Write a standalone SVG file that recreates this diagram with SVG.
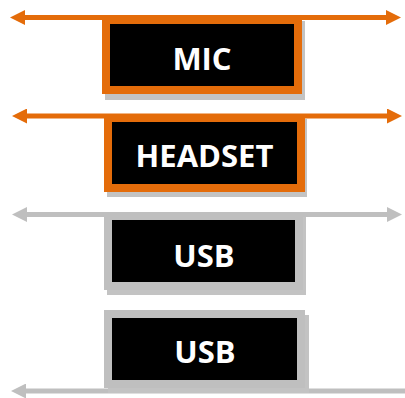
<svg xmlns="http://www.w3.org/2000/svg" width="405" height="398" viewBox="0 0 405 398">
  <style>
    .box { fill: #000000; stroke-width: 8; }
    .orange { stroke: #E46C0A; }
    .gray { stroke: #BFBFBF; }
    .shadow { fill: #C3C3C3; }
    .conn { fill: none; stroke-width: 5; }
    .label { font-family: "Open Sans", "Liberation Sans", sans-serif; font-weight: bold; font-size: 31px; fill: #FFFFFF; text-anchor: middle; }
  </style>
  <defs>
    <marker id="arrowO" viewBox="0 -7.5 15 15" refX="1" refY="0" markerWidth="15" markerHeight="15" markerUnits="userSpaceOnUse" orient="auto-start-reverse">
      <path d="M0,-7.5 L15,0 L0,7.5 z" fill="#E46C0A"/>
    </marker>
    <marker id="arrowG" viewBox="0 -7.5 15 15" refX="1" refY="0" markerWidth="15" markerHeight="15" markerUnits="userSpaceOnUse" orient="auto-start-reverse">
      <path d="M0,-7.5 L15,0 L0,7.5 z" fill="#BFBFBF"/>
    </marker>
  </defs>
  <rect width="405" height="398" fill="#FFFFFF"/>
  <g id="connectors">
    <line class="conn orange" x1="24" y1="17.5" x2="387" y2="17.5" marker-start="url(#arrowO)" marker-end="url(#arrowO)"/>
    <line class="conn orange" x1="26" y1="116" x2="388" y2="116" marker-start="url(#arrowO)" marker-end="url(#arrowO)"/>
    <line class="conn gray" x1="26" y1="214.5" x2="388" y2="214.5" marker-start="url(#arrowG)" marker-end="url(#arrowG)"/>
    <line class="conn gray" x1="405" y1="391" x2="25" y2="391" marker-end="url(#arrowG)"/>
  </g>
  <g id="node-mic">
    <rect class="shadow" x="105" y="21" width="200" height="79"/>
    <rect class="box orange" x="106" y="20" width="192" height="70"/>
    <text class="label" x="202" y="70">MIC</text>
  </g>
  <g id="node-headset">
    <rect class="shadow" x="107" y="119" width="200" height="78"/>
    <rect class="box orange" x="108" y="118" width="193" height="70"/>
    <text class="label" x="204.5" y="166.5">HEADSET</text>
  </g>
  <g id="node-usb1">
    <rect class="shadow" x="107" y="217" width="199" height="78"/>
    <rect class="box gray" x="108" y="216" width="191" height="70"/>
    <text class="label" x="204" y="266.5">USB</text>
  </g>
  <g id="node-usb2">
    <rect class="shadow" x="108" y="315" width="201" height="78"/>
    <rect class="box gray" x="108" y="314" width="193" height="70"/>
    <text class="label" x="205" y="363">USB</text>
  </g>
</svg>
